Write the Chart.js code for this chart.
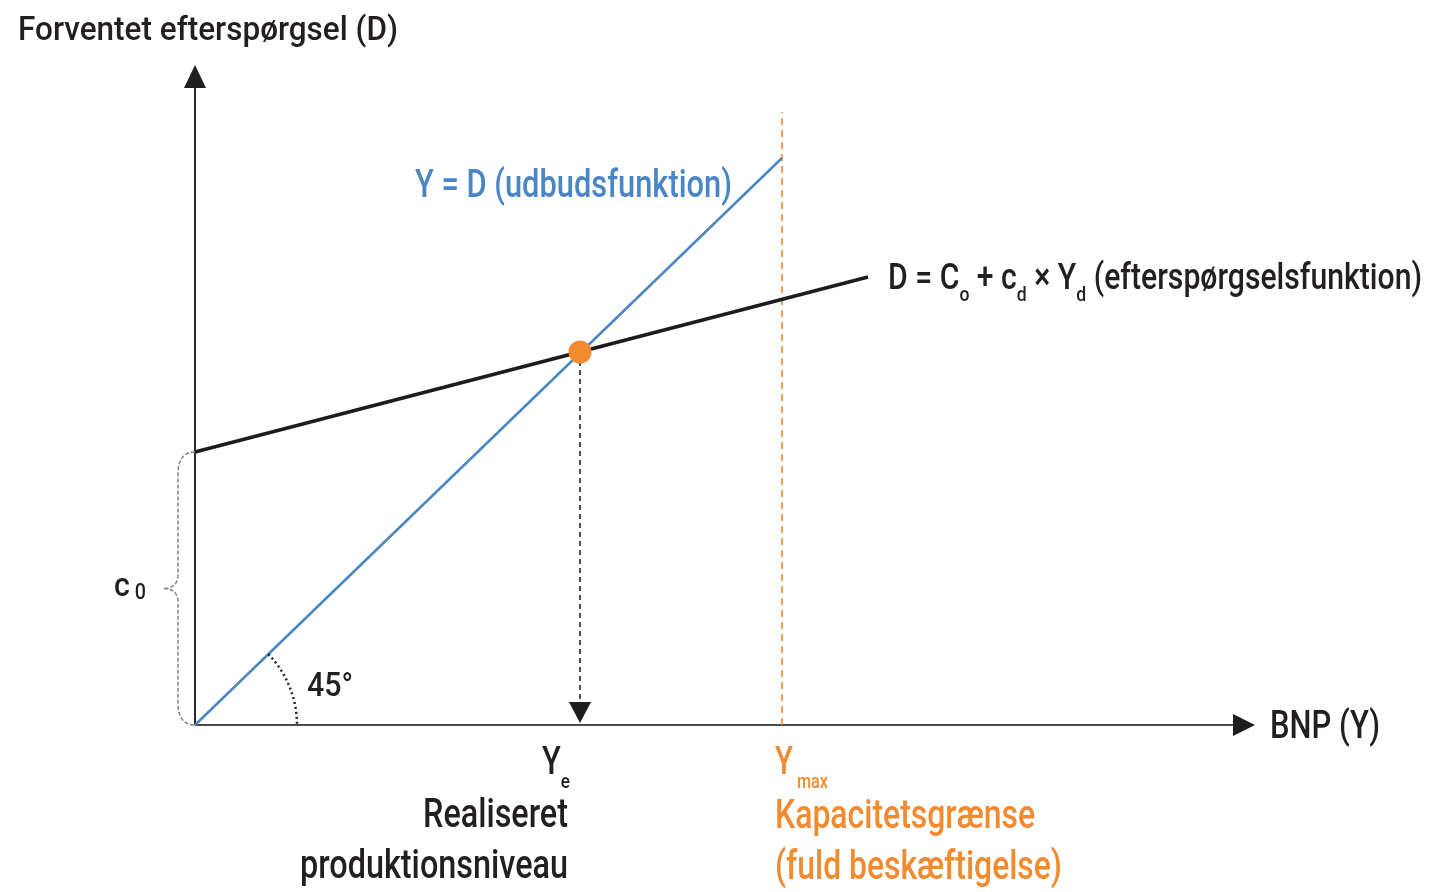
<!DOCTYPE html>
<html lang="da">
<head>
<meta charset="utf-8">
<title>Forventet efterspørgsel</title>
<script src="https://cdn.jsdelivr.net/npm/chart.js@4.4.1/dist/chart.umd.min.js"></script>
<style>
  html, body { margin: 0; padding: 0; background: #fff; }
  #wrap { position: relative; width: 1430px; height: 892px; }
</style>
</head>
<body>
<div id="wrap"><canvas id="chart"></canvas></div>
<script>
// axis extents (data units)
const axisX = [0, 10.6];
const axisY = [0, 6.6];
// Y = D (udbudsfunktion)
const supplyX = [0, 5.87];
const supplyY = [0, 5.67];
// D = C0 + cd * Yd (efterspørgselsfunktion)
const demandX = [0, 6.73];
const demandY = [2.73, 4.48];
// ligevægt (Ye)
const equilibrium = { x: 3.85, y: 3.73 };
// kapacitetsgrænse (Ymax)
const yMax = 5.87;
const capTop = 6.13;
const c0 = 2.73;

const FONT = "500 {s}px 'Roboto', 'Liberation Sans Narrow', 'DejaVu Sans Condensed', sans-serif";
const DARK = "#231f20";
const BLUE = "#4a86c5";
const ORANGE = "#f28a30";

const font = (s) => FONT.replace("{s}", s);
const toPts = (xs, ys) => xs.map((x, i) => ({ x, y: ys[i] }));

// text squeezed/stretched to a given width
function fitText(ctx, str, x, y, size, color, width, align) {
  ctx.save();
  ctx.font = font(size);
  ctx.fillStyle = color;
  ctx.textBaseline = "alphabetic";
  const w = ctx.measureText(str).width;
  const sx = width ? width / w : 1;
  const left = align === "right" ? x - w * sx : x;
  ctx.translate(left, y);
  ctx.scale(sx, 1);
  ctx.fillText(str, 0, 0);
  ctx.restore();
}

// text with subscripts, parts = [[text, isSub], ...]
function richText(ctx, parts, x, y, size, subSize, drop, color, width) {
  ctx.save();
  ctx.fillStyle = color;
  ctx.textBaseline = "alphabetic";
  let total = 0;
  parts.forEach(([t, sub]) => {
    ctx.font = font(sub ? subSize : size);
    total += ctx.measureText(t).width;
  });
  const sx = width ? width / total : 1;
  ctx.translate(x, y);
  ctx.scale(sx, 1);
  let cx = 0;
  parts.forEach(([t, sub]) => {
    ctx.font = font(sub ? subSize : size);
    ctx.fillText(t, cx, sub ? drop : 0);
    cx += ctx.measureText(t).width;
  });
  ctx.restore();
}

function triangle(ctx, tipX, tipY, dir, len, half, color) {
  ctx.save();
  ctx.fillStyle = color;
  ctx.beginPath();
  if (dir === "right") {
    ctx.moveTo(tipX, tipY);
    ctx.lineTo(tipX - len, tipY - half);
    ctx.lineTo(tipX - len, tipY + half);
  } else if (dir === "up") {
    ctx.moveTo(tipX, tipY);
    ctx.lineTo(tipX - half, tipY + len);
    ctx.lineTo(tipX + half, tipY + len);
  } else {
    ctx.moveTo(tipX, tipY);
    ctx.lineTo(tipX - half, tipY - len);
    ctx.lineTo(tipX + half, tipY - len);
  }
  ctx.closePath();
  ctx.fill();
  ctx.restore();
}

const decorations = {
  id: "decorations",
  afterDatasetsDraw(chart) {
    const { ctx, scales: { x, y } } = chart;
    const ox = x.getPixelForValue(0);
    const oy = y.getPixelForValue(0);

    // axis arrows
    triangle(ctx, x.getPixelForValue(axisX[1]), oy, "right", 22, 11, "#1e1e1e");
    triangle(ctx, ox, y.getPixelForValue(axisY[1]), "up", 23, 11, "#1e1e1e");
    // arrow at Ye
    triangle(ctx, x.getPixelForValue(equilibrium.x), oy - 2, "down", 21, 11, "#1e1e1e");

    // 45 degree arc
    const ang = Math.atan2(
      y.getPixelForValue(supplyY[1]) - oy,
      x.getPixelForValue(supplyX[1]) - ox
    );
    ctx.save();
    ctx.strokeStyle = "#222";
    ctx.lineWidth = 2.5;
    ctx.setLineDash([2, 3]);
    ctx.beginPath();
    ctx.arc(ox, oy, 102, ang, 0);
    ctx.stroke();
    ctx.restore();

    // brace for c0
    const yt = y.getPixelForValue(c0);
    const mid = (yt + oy) / 2;
    const bx = ox - 17;
    ctx.save();
    ctx.strokeStyle = "#8a8a8a";
    ctx.lineWidth = 1.6;
    ctx.setLineDash([4, 2]);
    ctx.beginPath();
    ctx.moveTo(ox, yt);
    ctx.quadraticCurveTo(bx, yt, bx, yt + 22);
    ctx.lineTo(bx, mid - 14);
    ctx.quadraticCurveTo(bx, mid, bx - 15, mid);
    ctx.quadraticCurveTo(bx, mid, bx, mid + 14);
    ctx.lineTo(bx, oy - 22);
    ctx.quadraticCurveTo(bx, oy, ox, oy);
    ctx.stroke();
    ctx.restore();

    // labels
    fitText(ctx, "Forventet efterspørgsel (D)", 18, 40, 34, DARK, 380);
    fitText(ctx, "Y = D (udbudsfunktion)", 415, 197, 38, BLUE, 317);
    richText(ctx, [["D = C", 0], ["o", 1], [" + c", 0], ["d", 1], [" × Y", 0], ["d", 1], [" (efterspørgselsfunktion)", 0]],
      888, 289, 36, 21, 12, DARK, 534);
    fitText(ctx, "BNP (Y)", 1270, 738, 38, DARK, 110);
    richText(ctx, [["c", 0], [" 0", 1]], 114, 596, 34, 22, 3, DARK, 32);
    fitText(ctx, "45°", 307, 696, 34, DARK, 46);

    const xe = x.getPixelForValue(equilibrium.x);
    richText(ctx, [["Y", 0], ["e", 1]], xe - 38, 774, 38, 21, 14, DARK, 28);
    fitText(ctx, "Realiseret", 568, 827, 40, DARK, 145, "right");
    fitText(ctx, "produktionsniveau", 568, 878, 40, DARK, 268, "right");

    const xm = x.getPixelForValue(yMax);
    richText(ctx, [["Y", 0], [" max", 1]], xm - 7, 774, 38, 21, 14, ORANGE, 53);
    fitText(ctx, "Kapacitetsgrænse", xm - 7, 828, 40, ORANGE, 260);
    fitText(ctx, "(fuld beskæftigelse)", xm - 7, 879, 40, ORANGE, 287);
  }
};

// dataset 0 is painted last (on top)
const ctx = document.getElementById("chart").getContext("2d");
new Chart(ctx, {
  type: "scatter",
  data: {
    datasets: [
      {
        label: "ligevægt",
        data: [equilibrium],
        showLine: false,
        pointRadius: 11.5,
        pointBackgroundColor: ORANGE,
        pointBorderWidth: 0,
      },
      {
        label: "D",
        data: toPts(demandX, demandY),
        borderColor: "#1c1c1c",
        borderWidth: 3.8,
      },
      {
        label: "Y = D",
        data: toPts(supplyX, supplyY),
        borderColor: BLUE,
        borderWidth: 2.5,
      },
      {
        label: "Ye",
        data: [{ x: equilibrium.x, y: equilibrium.y }, { x: equilibrium.x, y: 0.2 }],
        borderColor: "#222",
        borderWidth: 1.6,
        borderDash: [5, 4],
      },
      {
        label: "Ymax",
        data: [{ x: yMax, y: 0 }, { x: yMax, y: capTop }],
        borderColor: ORANGE,
        borderWidth: 1.6,
        borderDash: [7, 5],
      },
      {
        label: "y-akse",
        data: [{ x: 0, y: axisY[0] }, { x: 0, y: axisY[1] - 0.15 }],
        borderColor: "#2a2a2a",
        borderWidth: 2,
      },
      {
        label: "x-akse",
        data: [{ x: axisX[0], y: 0 }, { x: axisX[1] - 0.15, y: 0 }],
        borderColor: "#4a4a4a",
        borderWidth: 2,
      },
    ].map((d) => ({ showLine: true, pointRadius: 0, clip: false, ...d })),
  },
  options: {
    responsive: true,
    maintainAspectRatio: false,
    animation: false,
    events: [],
    layout: { padding: { left: 195, right: 175, top: 65, bottom: 167 } },
    scales: {
      x: { type: "linear", min: axisX[0], max: axisX[1], display: false },
      y: { type: "linear", min: axisY[0], max: axisY[1], display: false },
    },
    plugins: {
      legend: { display: false },
      tooltip: { enabled: false },
    },
  },
  plugins: [decorations],
});
</script>
</body>
</html>
